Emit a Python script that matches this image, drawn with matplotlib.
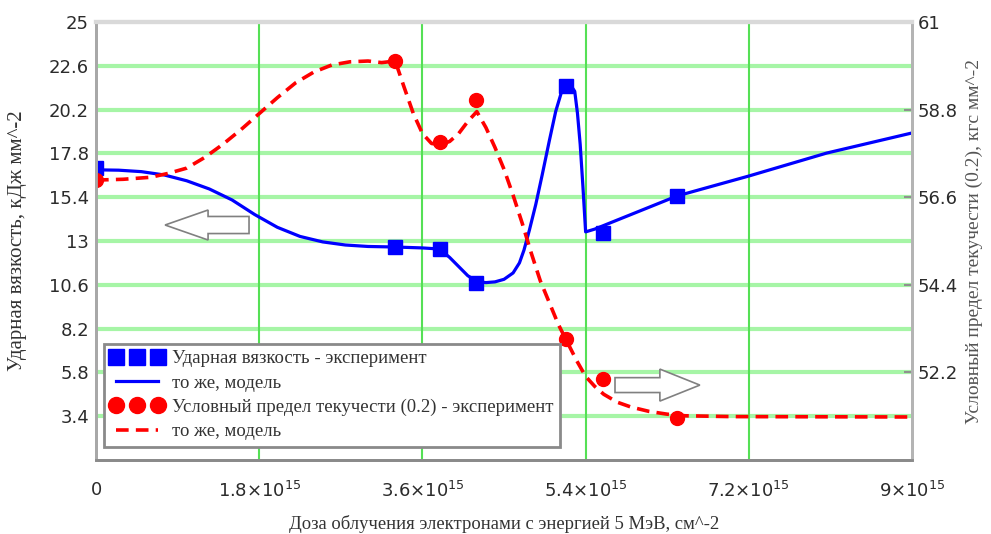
import numpy as np
import matplotlib
matplotlib.use('Agg')
import matplotlib.pyplot as plt
from matplotlib.ticker import FuncFormatter
from matplotlib.patches import FancyArrow

# Экспериментальные точки (доза, см^-2)
доза_эксп = [0, 3.30e15, 3.79e15, 4.19e15, 5.18e15, 5.59e15, 6.41e15]
вязкость_эксп = [17.0, 12.67, 12.56, 10.70, 21.49, 13.44, 15.47]
текучесть_эксп = [57.03, 60.02, 57.99, 59.04, 53.04, 52.03, 51.06]

# Модель: ударная вязкость (доза в единицах 1e15)
доза_мод_в = [0, 0.25, 0.5, 0.75, 1.0, 1.25, 1.5, 1.75, 2.0, 2.25, 2.5, 2.75,
              3.0, 3.3, 3.6, 3.79, 3.9, 4.0, 4.1, 4.2, 4.3, 4.4, 4.5, 4.6,
              4.67, 4.72, 4.78, 4.85, 4.92, 5.0, 5.07, 5.13, 5.18, 5.24, 5.28,
              5.31, 5.34, 5.37, 5.40, 5.5, 6.41, 7.2, 8.06, 9.0]
вязкость_мод = [16.9, 16.88, 16.8, 16.62, 16.3, 15.85, 15.25, 14.45, 13.75,
                13.25, 12.95, 12.78, 12.7, 12.67, 12.62, 12.56, 12.1, 11.6,
                11.1, 10.78, 10.72, 10.76, 10.9, 11.25, 11.8, 12.5, 13.6,
                15.0, 16.6, 18.5, 20.1, 21.1, 21.5, 21.5, 21.2, 20.0, 18.3,
                16.0, 13.5, 13.65, 15.47, 16.56, 17.82, 18.92]

# Модель: условный предел текучести (доза в единицах 1e15)
доза_мод_т = [0, 0.3, 0.6, 0.8, 1.0, 1.2, 1.4, 1.6, 1.8, 2.0, 2.2, 2.4, 2.6,
              2.8, 3.0, 3.15, 3.3, 3.4, 3.5, 3.6, 3.7, 3.8, 3.9, 4.0, 4.1,
              4.2, 4.3, 4.4, 4.5, 4.6, 4.7, 4.8, 4.9, 5.0, 5.1, 5.2, 5.3,
              5.4, 5.5, 5.6, 5.75, 5.9, 6.1, 6.3, 6.5, 7.0, 9.0]
текучесть_мод = [57.03, 57.05, 57.1, 57.2, 57.33, 57.6, 57.93, 58.3, 58.7,
                 59.1, 59.47, 59.74, 59.92, 60.0, 60.02, 59.98, 60.02, 59.35,
                 58.7, 58.2, 57.95, 57.92, 58.0, 58.2, 58.5, 58.75, 58.35,
                 57.85, 57.3, 56.65, 55.95, 55.2, 54.5, 53.95, 53.4, 52.95,
                 52.5, 52.1, 51.85, 51.65, 51.45, 51.33, 51.22, 51.15, 51.11,
                 51.09, 51.08]

xticks = [0, 1.8e15, 3.6e15, 5.4e15, 7.2e15, 9.0e15]
yticks_left = [3.4, 5.8, 8.2, 10.6, 13, 15.4, 17.8, 20.2, 22.6, 25]
yticks_right = [52.2, 54.4, 56.6, 58.8, 61]

serif = 'Liberation Serif'
blue = '#0000ff'
red = '#ff0000'


def dose_fmt(x, pos):
    if x == 0:
        return '0'
    return '%g×10$^{15}$' % (x / 1e15)


fig = plt.figure(figsize=(9.91, 5.34), dpi=100)
ax = fig.add_axes([0.0969, 0.1386, 0.8234, 0.8202])
ax2 = ax.twinx()

ax.set_xlim(0, 9e15)
ax.set_ylim(1, 25)
ax2.set_ylim(50, 61)

# сетка
for v in yticks_left[:-1]:
    ax.axhline(v, color='#a6f5a6', lw=3, zorder=0)
for v in xticks[1:-1]:
    ax.axvline(v, color='#55e055', lw=1.5, zorder=0)

ax.plot(np.array(доза_мод_в) * 1e15, вязкость_мод, color=blue, lw=2.3,
        label='то же, модель')
ax.plot(доза_эксп, вязкость_эксп, ls='none', marker='s', ms=10, color=blue,
        label='Ударная вязкость - эксперимент')
ax2.plot(np.array(доза_мод_т) * 1e15, текучесть_мод, color=red, lw=2.6,
         ls=(0, (3.5, 2.0)), label='то же, модель')
ax2.plot(доза_эксп, текучесть_эксп, ls='none', marker='o', ms=10, color=red,
         label='Условный предел текучести (0.2) - эксперимент')

ax.set_xticks(xticks)
ax.xaxis.set_major_formatter(FuncFormatter(dose_fmt))
ax.set_yticks(yticks_left)
ax.set_yticklabels(['%g' % v for v in yticks_left])
ax2.set_yticks(yticks_right)
ax2.set_yticklabels(['%g' % v for v in yticks_right])

ax.tick_params(axis='x', length=0, pad=15, labelsize=13, labelcolor='#2b2b2b')
ax.tick_params(axis='y', length=0, pad=5, labelsize=13, labelcolor='#2b2b2b')
ax2.tick_params(axis='y', direction='in', length=6, width=1.5, color='#909090',
                pad=4, labelsize=13, labelcolor='#2b2b2b')

for a in (ax, ax2):
    a.spines['left'].set_color('#a8a8a8')
    a.spines['left'].set_linewidth(2)
    a.spines['bottom'].set_color('#8a8a8a')
    a.spines['bottom'].set_linewidth(2)
    a.spines['top'].set_color('#d9d9d9')
    a.spines['top'].set_linewidth(3)
    a.spines['right'].set_color('#b4b4b4')
    a.spines['right'].set_linewidth(2)

ax.set_xlabel('Доза облучения электронами с энергией 5 МэВ, см^-2',
              family=serif, fontsize=13.4, color='#333333', labelpad=10)
ax.set_ylabel('Ударная вязкость, кДж мм^-2', family=serif, fontsize=15,
              color='#333333', labelpad=16)
ax2.set_ylabel('Условный предел текучести (0.2), кгс мм^-2', family=serif,
               fontsize=14, color='#555555', rotation=90, labelpad=6)

# стрелки-указатели осей
ax.add_patch(FancyArrow(0.1875, 0.5365, -0.1029, 0, width=0.039,
                        head_width=0.0685, head_length=0.0527,
                        length_includes_head=True, transform=ax.transAxes,
                        facecolor='white', edgecolor='#808080', lw=1.2,
                        zorder=3))
ax2.add_patch(FancyArrow(0.636, 0.171, 0.104, 0, width=0.034,
                         head_width=0.073, head_length=0.049,
                         length_includes_head=True, transform=ax2.transAxes,
                         facecolor='white', edgecolor='#808080', lw=1.2,
                         zorder=3))

h1, l1 = ax.get_legend_handles_labels()
h2, l2 = ax2.get_legend_handles_labels()
handles = [h1[1], h1[0], h2[1], h2[0]]
labels = [l1[1], l1[0], l2[1], l2[0]]
leg = ax2.legend(handles, labels, loc='lower left', bbox_to_anchor=(0.01, 0.03),
                 borderaxespad=0, numpoints=3, handlelength=2.8,
                 handletextpad=0.45, labelspacing=0.38, borderpad=0.35,
                 markerscale=1.15, fancybox=False, framealpha=1,
                 edgecolor='#8a8a8a', prop={'family': serif, 'size': 13.5})
leg.get_frame().set_linewidth(2)
for t in leg.get_texts():
    t.set_color('#333333')

fig.savefig('out.png', dpi=100)
